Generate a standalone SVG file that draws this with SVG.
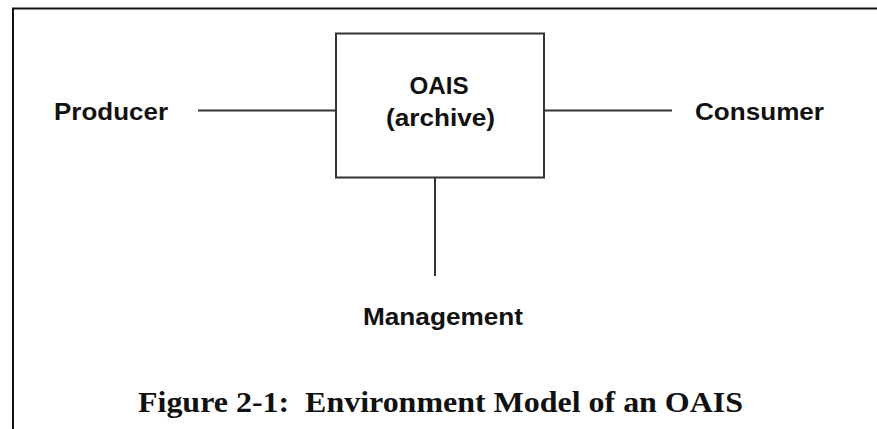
<svg xmlns="http://www.w3.org/2000/svg" width="877" height="429" viewBox="0 0 877 429">
<style>
.lbl{font-family:"Liberation Sans",Arial,sans-serif;font-weight:bold;font-size:24px;fill:#111;text-anchor:middle}
.cap{font-family:"Liberation Serif","Times New Roman",serif;font-weight:bold;font-size:30px;fill:#111;text-anchor:middle}
.ln{stroke:#333;stroke-width:2;fill:none}
</style>
<rect width="877" height="429" fill="#fff"/>
<g id="frame">
<path d="M13,429 V8.5 H877" fill="none" stroke="#111" stroke-width="2"/>
</g>
<g id="connectors">
<line class="ln" x1="198" y1="110.5" x2="336" y2="110.5"/>
<line class="ln" x1="544" y1="110.5" x2="672" y2="110.5"/>
<line class="ln" x1="435" y1="177.5" x2="435" y2="276"/>
</g>
<g id="oais">
<rect class="ln" x="336" y="33.5" width="208" height="144"/>
<text class="lbl" x="439" y="93.5" textLength="59" lengthAdjust="spacingAndGlyphs">OAIS</text>
<text class="lbl" x="440.5" y="125.5" textLength="109" lengthAdjust="spacingAndGlyphs">(archive)</text>
</g>
<g id="producer">
<text class="lbl" x="111" y="120" textLength="114" lengthAdjust="spacingAndGlyphs">Producer</text>
</g>
<g id="consumer">
<text class="lbl" x="759.5" y="120" textLength="129" lengthAdjust="spacingAndGlyphs">Consumer</text>
</g>
<g id="management">
<text class="lbl" x="443" y="325" textLength="160" lengthAdjust="spacingAndGlyphs">Management</text>
</g>
<text class="cap" x="440.5" y="411.5" xml:space="preserve" textLength="605" lengthAdjust="spacingAndGlyphs">Figure 2-1:  Environment Model of an OAIS</text>
</svg>
